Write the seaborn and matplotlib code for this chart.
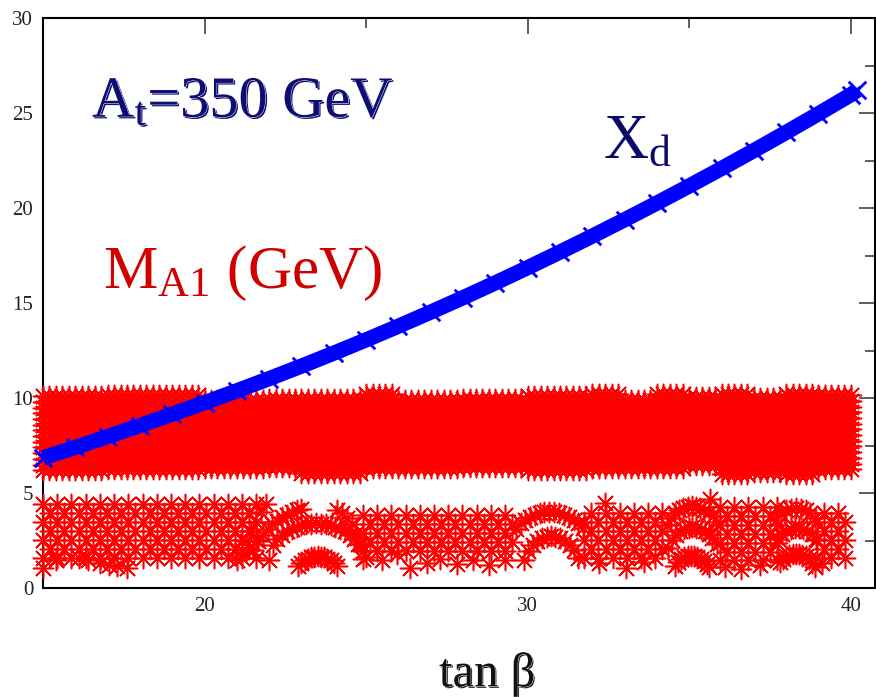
import numpy as np
import pandas as pd
import seaborn as sns
import matplotlib
matplotlib.use("Agg")
import matplotlib.pyplot as plt
import matplotlib.patheffects as pe
from matplotlib.ticker import MultipleLocator

# ---------------- data ----------------
# X_d versus tan(beta)
tanb_xd = [15, 16, 17, 18, 19, 20, 21, 22, 23, 24, 25, 26, 27, 28, 29, 30,
           31, 32, 33, 34, 35, 36, 37, 38, 39, 40, 40.2]
xd = [6.85, 7.40, 7.97, 8.55, 9.15, 9.75, 10.38, 11.02, 11.68, 12.36, 13.06,
      13.78, 14.52, 15.28, 16.06, 16.86, 17.68, 18.52, 19.38, 20.26, 21.16,
      22.08, 23.02, 23.98, 24.96, 25.96, 26.2]

# Upper M_A1 band: lowest / highest point in each unit column of tan(beta)
band_cols = [15, 16, 17, 18, 19, 20, 21, 22, 23, 24, 25, 26, 27, 28, 29, 30,
             31, 32, 33, 34, 35, 36, 37, 38, 39, 40]
band_lo = [6.20, 6.20, 6.25, 6.25, 6.25, 6.30, 6.30, 6.35, 6.05, 6.05, 6.30,
           6.30, 6.30, 6.35, 6.35, 6.20, 6.20, 6.30, 6.30, 6.30, 6.45, 6.00,
           6.10, 6.00, 6.25, 6.25]
band_hi = [10.20, 10.20, 10.15, 10.15, 10.20, 10.15, 10.15, 10.15, 10.15,
           10.20, 10.20, 10.15, 10.15, 10.20, 10.20, 10.25, 10.20, 10.20,
           10.15, 10.20, 10.25, 10.20, 10.20, 10.25, 10.20, 10.20]

# Lower M_A1 band: populated blocks (tanb_min, tanb_max, m_min, m_max)
block_tb_min = [15.0, 24.9, 31.75, 35.95, 38.95]
block_tb_max = [21.7, 29.6, 34.3, 37.8, 39.85]
block_m_min = [1.60, 1.95, 1.60, 1.45, 1.60]
block_m_max = [4.45, 4.05, 4.25, 4.30, 4.10]

# isolated light points below the blocks
low_tb = [15.0, 15.4, 16.1, 16.4, 16.75, 17.05, 17.3, 17.6, 25.5, 25.95, 26.35,
          26.9, 27.3, 27.8, 28.3, 28.8, 29.3, 32.2, 33.05, 33.6, 36.1, 36.6,
          37.2, 39.1, 35.65, 32.4]
low_m = [1.05, 1.45, 1.60, 1.45, 1.30, 1.20, 1.15, 1.05, 1.45, 1.80, 1.05,
         1.30, 1.55, 1.25, 1.45, 1.20, 1.45, 1.30, 1.05, 1.35, 1.10, 1.00,
         1.20, 1.30, 4.70, 4.45]

# arcs of the light branch
arc_tb = {
    "a_in": [22.9, 23.0, 23.1, 23.2, 23.3, 23.4, 23.5, 23.6, 23.7, 23.8, 23.9, 24.0, 24.1],
    "a_mid": [22.0, 22.12, 22.25, 22.4, 22.55, 22.7, 22.85, 23.0, 23.15, 23.3, 23.45,
              23.6, 23.75, 23.9, 24.05, 24.2, 24.35, 24.5, 24.62, 24.75, 24.9],
    "a_out_l": [21.5, 21.65, 21.8, 21.95, 22.1, 22.25, 22.4, 22.55, 22.7, 22.85, 23.0],
    "a_out_r": [24.1, 24.25, 24.4, 24.55, 24.7, 24.85, 25.0],
    "a_leg": [21.0, 21.15, 21.3, 21.45, 21.6, 21.75, 21.9],
    "b_in": [29.9, 30.02, 30.15, 30.3, 30.45, 30.6, 30.73, 30.86, 31.0, 31.15, 31.3, 31.43, 31.55],
    "b_out": [29.65, 29.78, 29.92, 30.07, 30.22, 30.37, 30.52, 30.67, 30.82, 30.97,
              31.12, 31.27, 31.42, 31.57, 31.7],
    "c_in": [34.55, 34.65, 34.75, 34.85, 34.95, 35.05, 35.15, 35.25, 35.35, 35.45, 35.55, 35.62],
    "c_mid": [34.35, 34.48, 34.6, 34.72, 34.85, 34.98, 35.1, 35.22, 35.35, 35.48, 35.6, 35.72, 35.85],
    "c_out": [34.3, 34.43, 34.56, 34.69, 34.82, 34.95, 35.08, 35.21, 35.34, 35.47, 35.6, 35.73, 35.86],
    "d_in": [37.8, 37.9, 38.0, 38.1, 38.2, 38.3, 38.4, 38.5, 38.6, 38.7, 38.8, 38.9],
    "d_mid": [37.75, 37.88, 38.01, 38.14, 38.27, 38.4, 38.53, 38.66, 38.79, 38.92],
    "d_out": [37.7, 37.85, 38.0, 38.15, 38.3, 38.45, 38.6, 38.75, 38.9],
}
arc_m = {
    "a_in": [1.15, 1.32, 1.45, 1.55, 1.62, 1.65, 1.66, 1.65, 1.62, 1.55, 1.45, 1.32, 1.15],
    "a_mid": [1.5, 2.26, 2.57, 2.81, 2.99, 3.13, 3.23, 3.31, 3.36, 3.39, 3.4,
              3.39, 3.36, 3.31, 3.23, 3.13, 2.99, 2.81, 2.6, 2.3, 1.55],
    "a_out_l": [2.0, 2.45, 2.8, 3.1, 3.35, 3.55, 3.72, 3.86, 3.98, 4.08, 4.15],
    "a_out_r": [4.1, 3.95, 3.7, 3.35, 2.9, 2.3, 1.65],
    "a_leg": [1.5, 2.0, 2.5, 3.0, 3.5, 4.0, 4.4],
    "b_in": [1.5, 1.95, 2.25, 2.47, 2.62, 2.71, 2.74, 2.71, 2.63, 2.49, 2.27, 1.98, 1.6],
    "b_out": [3.1, 3.4, 3.6, 3.75, 3.86, 3.94, 3.99, 4.0, 3.99, 3.94, 3.86, 3.75, 3.6, 3.4, 3.15],
    "c_in": [1.15, 1.38, 1.52, 1.61, 1.66, 1.68, 1.67, 1.63, 1.55, 1.42, 1.25, 1.1],
    "c_mid": [2.1, 2.55, 2.8, 2.98, 3.1, 3.17, 3.2, 3.18, 3.12, 3.0, 2.85, 2.62, 2.3],
    "c_out": [3.3, 3.7, 3.93, 4.1, 4.22, 4.28, 4.3, 4.28, 4.22, 4.12, 3.98, 3.78, 3.5],
    "d_in": [1.35, 1.55, 1.68, 1.76, 1.8, 1.81, 1.8, 1.75, 1.66, 1.52, 1.32, 1.08],
    "d_mid": [2.6, 2.85, 3.0, 3.1, 3.15, 3.15, 3.1, 3.0, 2.85, 2.6],
    "d_out": [3.6, 3.9, 4.08, 4.17, 4.2, 4.18, 4.1, 3.95, 3.7],
}

x_ticks = [20, 30, 40]
y_ticks = [0, 5, 10, 15, 20, 25, 30]

# ---------------- scan points of the red band ----------------
scan_steps = [0.0, 0.2, 0.4, 0.6, 0.8]
pts_tb, pts_m = [], []
for c, lo, hi in zip(band_cols, band_lo, band_hi):
    for s in (scan_steps if c < 40 else [0.0]):
        for m in np.arange(lo, hi + 1e-6, 0.3):
            pts_tb.append(c + s)
            pts_m.append(m)

for x0, x1, y0, y1 in zip(block_tb_min, block_tb_max, block_m_min, block_m_max):
    for k, m in enumerate(np.arange(y0, y1 + 1e-6, 0.47)):
        shift = 0.22 if k % 2 else 0.0
        for t in np.arange(x0 + shift, x1 + 1e-6, 0.44):
            pts_tb.append(t)
            pts_m.append(m)

pts_tb += low_tb
pts_m += low_m
for key in arc_tb:
    pts_tb += arc_tb[key]
    pts_m += arc_m[key]

red = pd.DataFrame({"tanb": pts_tb, "MA1": pts_m})
blue = pd.DataFrame({"tanb": tanb_xd, "Xd": xd})

# ---------------- style ----------------
sns.set_style("white")
plt.rcParams["font.family"] = ["Liberation Serif", "DejaVu Serif"]
plt.rcParams["mathtext.fontset"] = "custom"
plt.rcParams["mathtext.rm"] = "Liberation Serif"
plt.rcParams["mathtext.it"] = "Liberation Serif"

fig = plt.figure(figsize=(8.76, 6.97), dpi=100)
ax = fig.add_axes([43 / 876, 109 / 697, 832 / 876, 570 / 697])

asterisk = (8, 2, 0)
sns.scatterplot(data=red, x="tanb", y="MA1", marker=asterisk, s=210,
                color="#ff0000", linewidth=1.15, clip_on=False, ax=ax,
                legend=False, zorder=3)

sns.lineplot(data=blue, x="tanb", y="Xd", color="#0000ff", linewidth=11,
             solid_capstyle="butt", clip_on=False, ax=ax, zorder=4)
sns.scatterplot(data=blue, x="tanb", y="Xd", marker="x", s=160,
                color="#0000ff", linewidth=2.0, clip_on=False, ax=ax,
                legend=False, zorder=5)

ax.set_xlim(15, 40.75)
ax.set_ylim(0, 30)
ax.set_xticks(x_ticks)
ax.set_yticks(y_ticks)
ax.xaxis.set_minor_locator(MultipleLocator(5))
ax.yaxis.set_minor_locator(MultipleLocator(2.5))
ax.tick_params(which="both", direction="in", top=True, right=True,
               width=1.1, color="#333333", labelsize=15, labelcolor="#222222")
ax.tick_params(which="major", length=11.5)
ax.tick_params(which="minor", length=7)
ax.tick_params(axis="y", which="major", pad=7)
ax.tick_params(axis="x", which="major", pad=6.5)
for sp in ax.spines.values():
    sp.set_linewidth(1.5)
    sp.set_color("black")
ax.set_ylabel("")


def emboss(col, off=1.2):
    return [pe.SimplePatchShadow(offset=(off, -off), shadow_rgbFace=col, alpha=1.0),
            pe.withStroke(linewidth=0.7, foreground="white")]


ax.set_xlabel("tan β", fontsize=35, color="#111111",
              path_effects=emboss("#111111", 1.0))
ax.xaxis.set_label_coords(0.534, -0.113)

fig.text(92 / 876, 1 - 117 / 697, r"A$_\mathregular{t}$=350 GeV", fontsize=42,
         color="#0d0d73", ha="left", va="baseline",
         path_effects=emboss("#0d0d73", 1.2))
fig.text(603 / 876, 1 - 158 / 697, r"X$_\mathregular{d}$", fontsize=45,
         color="#0a0a6a", ha="left", va="baseline")
fig.text(103 / 876, 1 - 288 / 697, r"M$_\mathregular{A1}$ (GeV)", fontsize=44,
         color="#d00000", ha="left", va="baseline")

fig.savefig("out.png", dpi=100)
